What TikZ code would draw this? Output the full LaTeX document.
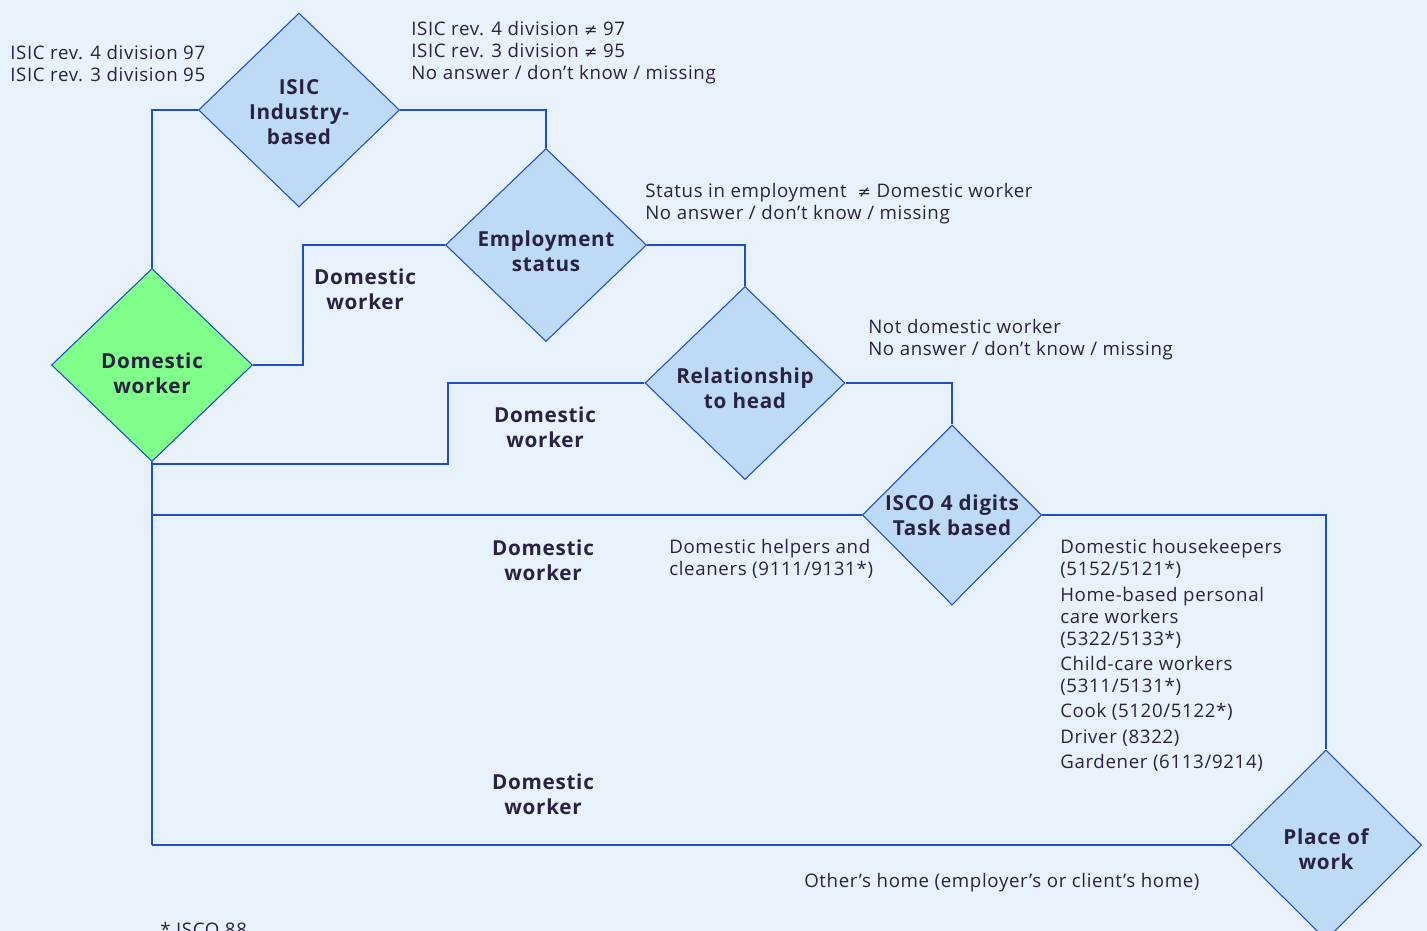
\documentclass[tikz,border=0pt]{standalone}
\usepackage{fontspec}
\setmainfont{Open Sans}[LetterSpace=3.5]
\newfontfamily\symfont{DejaVu Sans}
\newcommand{\nq}{{\symfont\fontsize{12}{16.5}\selectfont ≠}}
\usetikzlibrary{shapes.geometric}
\definecolor{bg}{HTML}{E8F2FC}
\definecolor{diafill}{HTML}{BDDBF7}
\definecolor{dwgreen}{HTML}{80FF8A}
\definecolor{lineblue}{HTML}{1F4EC6}
\definecolor{txt}{HTML}{2B2142}
\tikzset{
  dia/.style={diamond, draw=lineblue, line width=0.8pt, fill=diafill, inner sep=0pt},
  dlabel/.style={align=center, text=txt, font=\fontsize{15.5}{18.75}\selectfont\bfseries, inner sep=0pt},
  conn/.style={draw=lineblue, line width=1.1pt},
  note/.style={align=left, text=txt, font=\fontsize{14}{16.5}\selectfont, inner sep=0pt},
  bold/.style={align=center, text=txt, font=\fontsize{15.5}{18.75}\selectfont\bfseries, inner sep=0pt}
}
\begin{document}
\begin{tikzpicture}[x=0.75pt,y=-0.75pt]
\fill[bg] (0,0) rectangle (1427,931);
\useasboundingbox (0,0) rectangle (1427,931);

% diamonds
\node[dia, minimum width=150.75pt, minimum height=145.5pt,
  label={[dlabel, yshift=-1.5pt]center:ISIC\\Industry-\\based}] (isic) at (299,110) {};
\node[dia, minimum width=150.75pt, minimum height=144.75pt,
  label={[dlabel, yshift=-4.5pt]center:Employment\\status}] (emp) at (546,245) {};
\node[dia, minimum width=150pt, minimum height=144.75pt,
  label={[dlabel, yshift=-4pt]center:Relationship\\to head}] (rel) at (745,383) {};
\node[dia, minimum width=134.25pt, minimum height=135pt,
  label={[dlabel, yshift=-0.5pt]center:ISCO 4 digits\\Task based}] (isco) at (952,515) {};
\node[dia, fill=dwgreen, minimum width=150.75pt, minimum height=144.75pt,
  label={[dlabel, yshift=-6pt]center:Domestic\\worker}] (dw) at (152,365) {};
\node[dia, minimum width=143.25pt, minimum height=142.5pt,
  label={[dlabel, yshift=-3.5pt]center:Place of\\work}] (place) at (1326,845) {};

% connectors
\coordinate (j1) at (303,245);
\coordinate (j2) at (448,464);
\draw[conn] (isic.west) -| (dw.north);
\draw[conn] (isic.east) -| (emp.north);
\draw[conn] (emp.west) -- (j1) |- (dw.east);
\draw[conn] (emp.east) -| (rel.north);
\draw[conn] (rel.west) -| (j2) -- (dw.south |- j2);
\draw[conn] (rel.east) -| (isco.north);
\draw[conn] (dw.south) -- (dw.south |- place.west);
\draw[conn] (isco.west) -- (dw.south |- isco.west);
\draw[conn] (isco.east) -| (place.north);
\draw[conn] (place.west) -- (dw.south |- place.west);

% notes
\node[note, anchor=west] (n1) at (10,64) {ISIC rev. 4 division 97\\ISIC rev. 3 division 95};
\node[note, anchor=west] (n2) at (411,53) {ISIC rev. 4 division \nq{} 97\\ISIC rev. 3 division \nq{} 95\\No answer / don’t know / missing};
\node[note, anchor=west] (n3) at (645,204) {Status in employment \ \nq{} Domestic worker\\No answer / don’t know / missing};
\node[note, anchor=west] (n4) at (868,340) {Not domestic worker\\No answer / don’t know / missing};
\node[note, anchor=west] (n5) at (669,559) {Domestic helpers and\\cleaners (9111/9131*)};
\node[note, anchor=west] (n6) at (1060,655.5) {Domestic housekeepers\\(5152/5121*)\\[2.5pt]Home-based personal\\care workers\\(5322/5133*)\\[2.5pt]Child-care workers\\(5311/5131*)\\[2.5pt]Cook (5120/5122*)\\[2.5pt]Driver (8322)\\[2.5pt]Gardener (6113/9214)};
\node[note, anchor=west] (n7) at (804,883) {Other’s home (employer’s or client’s home)};
\node[note, anchor=base west] (n8) at (160,936) {* ISCO 88};

\node[bold] (b1) at (365,289) {Domestic\\worker};
\node[bold] (b2) at (545,427) {Domestic\\worker};
\node[bold] (b3) at (543,560) {Domestic\\worker};
\node[bold] (b4) at (543,794) {Domestic\\worker};
\end{tikzpicture}
\end{document}
